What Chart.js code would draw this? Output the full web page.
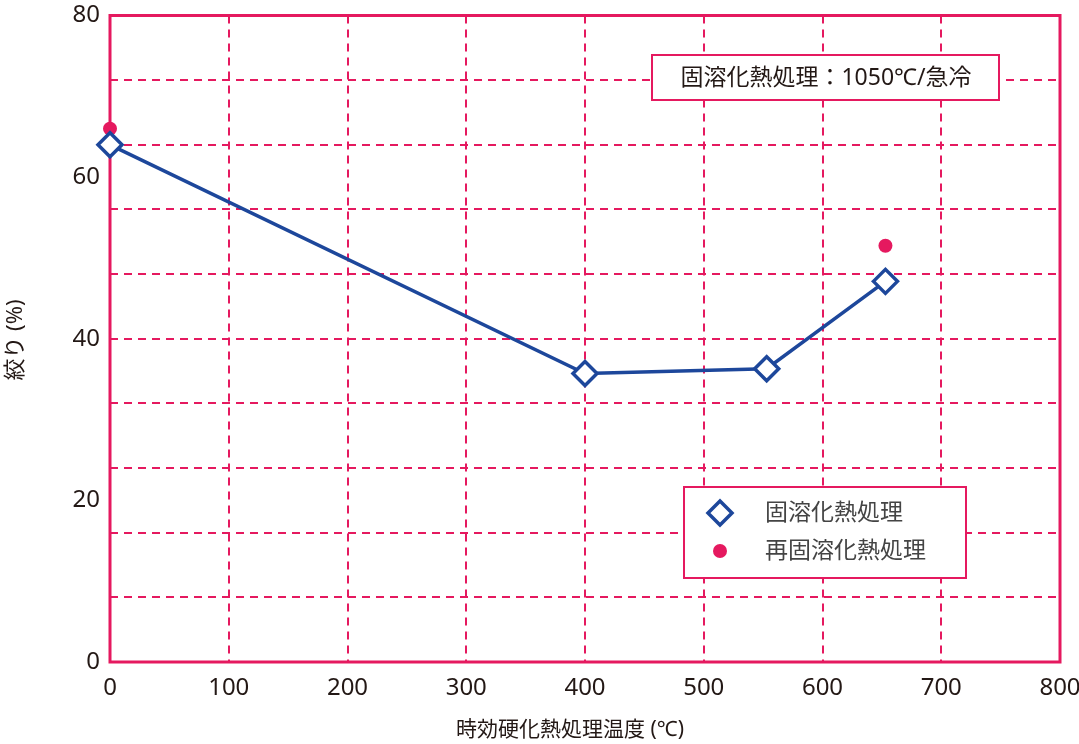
<!DOCTYPE html>
<html>
<head>
<meta charset="utf-8">
<script src="https://cdn.jsdelivr.net/npm/chart.js@4/dist/chart.umd.min.js"></script>
<style>
  html, body { margin: 0; padding: 0; background: #fff; }
  #wrap { width: 1079px; height: 744px; }
</style>
</head>
<body>
<div id="wrap"><canvas id="c"></canvas></div>
<script>
// ===== data =====
const solTemp = [0, 400, 553, 653];          // 固溶化熱処理
const solValue = [64, 35.7, 36.3, 47.1];
const reTemp = [0, 653];                     // 再固溶化熱処理
const reValue = [66, 51.5];

const seriesNames = ['固溶化熱処理', '再固溶化熱処理'];
const xTitle = '時効硬化熱処理温度 (℃)';
const yTitle = '絞り (%)';
const noteText = '固溶化熱処理：1050℃/急冷';

const PINK = '#e5195f';
const BLUE = '#1d479b';
const TEXT = '#231815';
const FONT = '"Noto Sans", "Noto Sans CJK JP", sans-serif';

// ===== extras drawn on the canvas =====
const extras = {
  id: 'extras',
  beforeDatasetsDraw(chart) {
    const { ctx, chartArea: a } = chart;
    ctx.save();
    ctx.strokeStyle = PINK;
    ctx.lineWidth = 3;
    ctx.strokeRect(a.left, a.top, a.right - a.left, a.bottom - a.top);

    // note box
    ctx.fillStyle = '#fff';
    ctx.fillRect(652, 55, 347, 45);
    ctx.lineWidth = 2;
    ctx.strokeRect(652, 55, 347, 45);
    ctx.fillStyle = TEXT;
    ctx.font = '23px ' + FONT;
    ctx.textAlign = 'center';
    ctx.textBaseline = 'middle';
    ctx.fillText(noteText, 826, 78);

    // legend box
    ctx.fillStyle = '#fff';
    ctx.fillRect(684, 487, 282, 91);
    ctx.strokeRect(684, 487, 282, 91);

    ctx.beginPath();
    ctx.moveTo(708, 513); ctx.lineTo(720, 501); ctx.lineTo(732, 513); ctx.lineTo(720, 525);
    ctx.closePath();
    ctx.fillStyle = '#fff';
    ctx.fill();
    ctx.strokeStyle = BLUE;
    ctx.lineWidth = 3.5;
    ctx.stroke();

    ctx.beginPath();
    ctx.arc(720, 551, 7, 0, Math.PI * 2);
    ctx.fillStyle = PINK;
    ctx.fill();

    ctx.fillStyle = '#444';
    ctx.textAlign = 'left';
    ctx.font = '23px ' + FONT;
    ctx.fillText(seriesNames[0], 765, 513);
    ctx.fillText(seriesNames[1], 765, 551);

    // axis titles
    ctx.fillStyle = TEXT;
    ctx.font = '21px ' + FONT;
    ctx.textAlign = 'center';
    ctx.fillText(xTitle, 570, 730);
    ctx.translate(16, 340);
    ctx.rotate(-Math.PI / 2);
    ctx.font = '22px ' + FONT;
    ctx.fillText(yTitle, 0, 0);
    ctx.restore();
  }
};

new Chart(document.getElementById('c'), {
  type: 'scatter',
  data: {
    datasets: [
      {
        label: seriesNames[0],
        data: solTemp.map((x, i) => ({ x, y: solValue[i] })),
        showLine: true,
        clip: false,
        borderColor: BLUE,
        borderWidth: 3.5,
        pointStyle: 'rectRot',
        pointRadius: 12,
        pointBorderWidth: 3.5,
        pointBackgroundColor: '#fff',
        pointBorderColor: BLUE
      },
      {
        label: seriesNames[1],
        data: reTemp.map((x, i) => ({ x, y: reValue[i] })),
        clip: false,
        pointStyle: 'circle',
        pointRadius: 7,
        pointBorderWidth: 0,
        pointBackgroundColor: PINK,
        borderColor: PINK
      }
    ]
  },
  options: {
    responsive: true,
    maintainAspectRatio: false,
    animation: false,
    layout: { padding: { left: 0, right: 19, top: 12, bottom: 0 } },
    plugins: {
      legend: { display: false },
      tooltip: { enabled: false }
    },
    scales: {
      x: {
        type: 'linear',
        min: 0, max: 800,
        afterFit: s => { s.height = 82; s.paddingLeft = 0; s.paddingRight = 0; },
        ticks: { stepSize: 100, padding: 12, color: TEXT, font: { size: 24, family: FONT } },
        grid: {
          drawTicks: false,
          lineWidth: 2,
          color: ctx => (ctx.tick && ctx.tick.value > 0 && ctx.tick.value < 800) ? PINK : 'rgba(0,0,0,0)'
        },
        border: { display: false, dash: [8, 6] }
      },
      y: {
        min: 0, max: 80,
        afterFit: s => { s.width = 110; s.paddingTop = 0; s.paddingBottom = 0; },
        ticks: {
          stepSize: 4, padding: 10, color: TEXT, font: { size: 24, family: FONT, lineHeight: 1 },
          autoSkip: false,
          callback: v => (v % 20 === 0 ? v : '')
        },
        grid: {
          drawTicks: false,
          lineWidth: 2,
          color: ctx => (ctx.tick && ctx.tick.value % 8 === 0 && ctx.tick.value > 0 && ctx.tick.value < 80) ? PINK : 'rgba(0,0,0,0)'
        },
        border: { display: false, dash: [8, 6] }
      }
    }
  },
  plugins: [extras]
});
</script>
</body>
</html>
